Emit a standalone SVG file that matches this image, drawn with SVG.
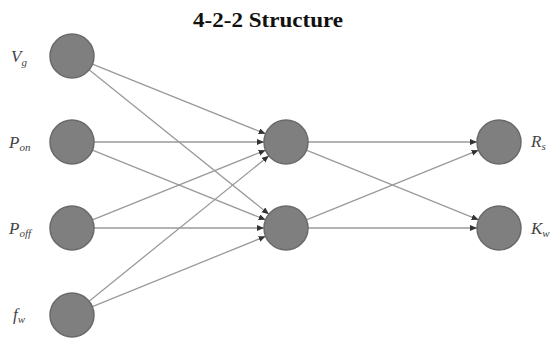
<svg xmlns="http://www.w3.org/2000/svg" width="554" height="338" viewBox="0 0 554 338">
<style>
.node{fill:#7f7f7f;stroke:#6a6a6a;stroke-width:1.5}
.edge{stroke:#9a9a9a;stroke-width:1.3;fill:none;marker-end:url(#arr)}
.lbl{font-family:"Liberation Serif","DejaVu Serif",serif;font-style:italic;font-size:17px;fill:#444}
.sub{font-size:11px}
.title{font-family:"Liberation Serif","Times New Roman","DejaVu Serif",serif;font-weight:700;font-size:21px;fill:#111}
</style>
<defs>
<marker id="arr" markerUnits="userSpaceOnUse" markerWidth="8" markerHeight="7" refX="7" refY="3" orient="auto">
<path d="M0,0 L7,3 L0,6 z" fill="#333"/>
</marker>
</defs>
<rect width="554" height="338" fill="#fff"/>
<text class="title" x="268" y="27" text-anchor="middle" textLength="150" lengthAdjust="spacingAndGlyphs">4-2-2 Structure</text>
<g id="connectors">
<line class="edge" x1="92.4" y1="64.2" x2="265.6" y2="133.8"/>
<line class="edge" x1="89.1" y1="69.8" x2="268.9" y2="214.2"/>
<line class="edge" x1="94" y1="142" x2="264" y2="142"/>
<line class="edge" x1="92.4" y1="150.2" x2="265.6" y2="219.8"/>
<line class="edge" x1="92.4" y1="219.8" x2="265.6" y2="150.2"/>
<line class="edge" x1="94" y1="228" x2="264" y2="228"/>
<line class="edge" x1="89.1" y1="301.2" x2="268.9" y2="155.8"/>
<line class="edge" x1="92.4" y1="306.7" x2="265.6" y2="236.3"/>
<line class="edge" x1="308" y1="142" x2="477" y2="142"/>
<line class="edge" x1="306.4" y1="150.2" x2="478.6" y2="219.8"/>
<line class="edge" x1="306.4" y1="219.8" x2="478.6" y2="150.2"/>
<line class="edge" x1="308" y1="228" x2="477" y2="228"/>
</g>
<g id="in-vg"><circle class="node" cx="72" cy="56" r="22"/><text class="lbl" x="11" y="62">V<tspan class="sub" dy="4">g</tspan></text></g>
<g id="in-pon"><circle class="node" cx="72" cy="142" r="22"/><text class="lbl" x="9" y="148">P<tspan class="sub" dy="3">on</tspan></text></g>
<g id="in-poff"><circle class="node" cx="72" cy="228" r="22"/><text class="lbl" x="9" y="234">P<tspan class="sub" dy="3">off</tspan></text></g>
<g id="in-fw"><circle class="node" cx="72" cy="315" r="22"/><text class="lbl" x="13" y="320">f<tspan class="sub" dy="3">w</tspan></text></g>
<g id="hid-1"><circle class="node" cx="286" cy="142" r="22"/></g>
<g id="hid-2"><circle class="node" cx="286" cy="228" r="22"/></g>
<g id="out-rs"><circle class="node" cx="499" cy="142" r="22"/><text class="lbl" x="531" y="147">R<tspan class="sub" dy="3">s</tspan></text></g>
<g id="out-kw"><circle class="node" cx="499" cy="228" r="22"/><text class="lbl" x="531" y="234">K<tspan class="sub" dy="3">w</tspan></text></g>
</svg>
